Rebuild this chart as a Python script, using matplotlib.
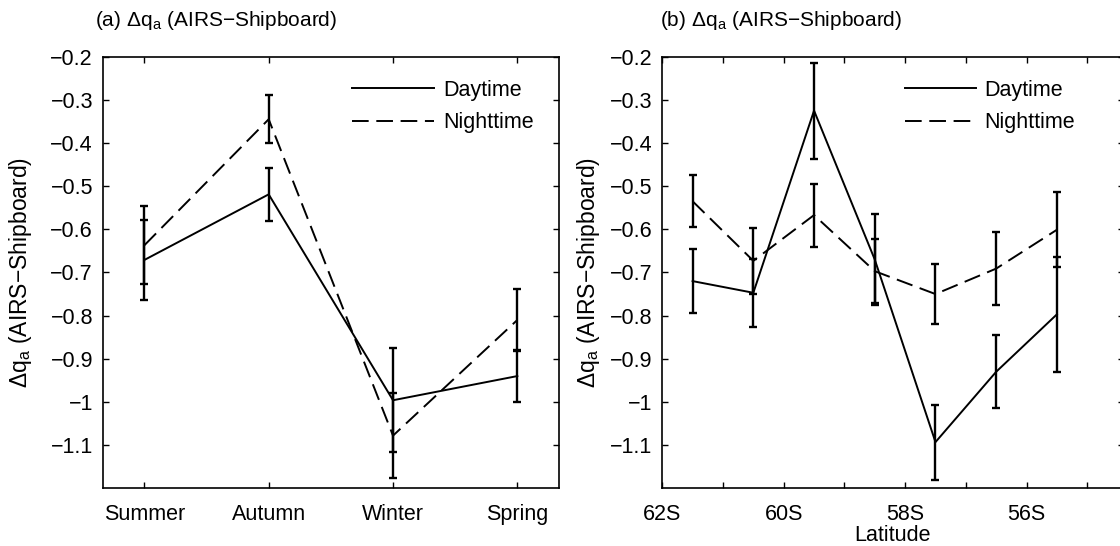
import matplotlib
matplotlib.use('Agg')
import matplotlib.pyplot as plt

plt.rcParams['font.family'] = ['Liberation Sans', 'DejaVu Sans']
plt.rcParams['mathtext.fontset'] = 'custom'
plt.rcParams['mathtext.rm'] = 'Liberation Sans'
plt.rcParams['mathtext.it'] = 'Liberation Sans:italic'
plt.rcParams['lines.scale_dashes'] = False

# (a) seasonal
seasons = ['Summer', 'Autumn', 'Winter', 'Spring']
day_season = [-0.671, -0.519, -0.996, -0.940]
day_season_err = [0.092, 0.062, 0.121, 0.060]
night_season = [-0.637, -0.345, -1.078, -0.810]
night_season_err = [0.090, 0.056, 0.099, 0.072]

# (b) latitude bins (negative = south)
lat = [-61.5, -60.5, -59.5, -58.5, -57.5, -56.5, -55.5]
day_lat = [-0.720, -0.747, -0.325, -0.670, -1.093, -0.930, -0.797]
day_lat_err = [0.075, 0.079, 0.111, 0.106, 0.087, 0.084, 0.134]
night_lat = [-0.535, -0.673, -0.567, -0.697, -0.750, -0.691, -0.601]
night_lat_err = [0.060, 0.076, 0.073, 0.074, 0.070, 0.084, 0.087]

yticks = [-1.1, -1.0, -0.9, -0.8, -0.7, -0.6, -0.5, -0.4, -0.3, -0.2]
ylabels = ['\u22121.1', '\u22121', '\u22120.9', '\u22120.8', '\u22120.7',
           '\u22120.6', '\u22120.5', '\u22120.4', '\u22120.3', '\u22120.2']
fs = 15.5
dash = (0, (12, 5.5))
lw = 1.4
ylab = 'Δq$_\\mathrm{a}$ (AIRS\u2212Shipboard)'

fig = plt.figure(figsize=(11.2, 5.46), dpi=100)
ax1 = fig.add_axes([0.0917, 0.1057, 0.4074, 0.7905])
ax2 = fig.add_axes([0.5913, 0.1057, 0.4120, 0.7905])


def draw(ax, x, d, de, n, ne):
    ax.plot(x, d, 'k-', lw=lw, label='Daytime')
    ax.plot(x, n, color='k', ls=dash, lw=lw, label='Nighttime')
    ax.errorbar(x, d, yerr=de, fmt='none', ecolor='k', elinewidth=1.7,
                capsize=2.8, capthick=1.7)
    ax.errorbar(x, n, yerr=ne, fmt='none', ecolor='k', elinewidth=1.7,
                capsize=2.8, capthick=1.7)
    ax.set_ylim(-1.2, -0.2)
    ax.set_yticks(yticks)
    ax.set_yticklabels(ylabels)
    ax.tick_params(direction='in', top=True, right=True, length=4,
                   width=1, labelsize=fs, pad=7)
    ax.tick_params(axis='x', pad=11)
    for s in ax.spines.values():
        s.set_linewidth(1.2)
    ax.set_ylabel(ylab, fontsize=16.5)


xs = [1, 2, 3, 4]
draw(ax1, xs, day_season, day_season_err, night_season, night_season_err)
ax1.set_xlim(0.665, 4.335)
ax1.set_xticks(xs)
ax1.set_xticklabels(seasons)
ax1.yaxis.set_label_coords(-0.150, 0.5)
ax1.legend(loc='upper left', bbox_to_anchor=(0.546, 0.946), frameon=False,
           fontsize=fs, handlelength=3.8, handletextpad=0.45,
           borderpad=0, borderaxespad=0, labelspacing=0.52)

draw(ax2, lat, day_lat, day_lat_err, night_lat, night_lat_err)
ax2.set_xlim(-62, -54.4)
ax2.set_xticks(range(-62, -54))
ax2.set_xticklabels([f'{-t}S' if t % 2 == 0 else '' for t in range(-62, -54)])
ax2.set_xlabel('Latitude', fontsize=fs, labelpad=0.5)
ax2.yaxis.set_label_coords(-0.130, 0.5)
ax2.legend(loc='upper left', bbox_to_anchor=(0.527, 0.946), frameon=False,
           fontsize=fs, handlelength=3.3, handletextpad=0.35,
           borderpad=0, borderaxespad=0, labelspacing=0.52)

fig.text(95 / 1120, 0.952, '(a) ' + ylab, fontsize=15, ha='left', va='baseline')
fig.text(660 / 1120, 0.952, '(b) ' + ylab, fontsize=15, ha='left', va='baseline')

fig.savefig('out.png', dpi=100)
